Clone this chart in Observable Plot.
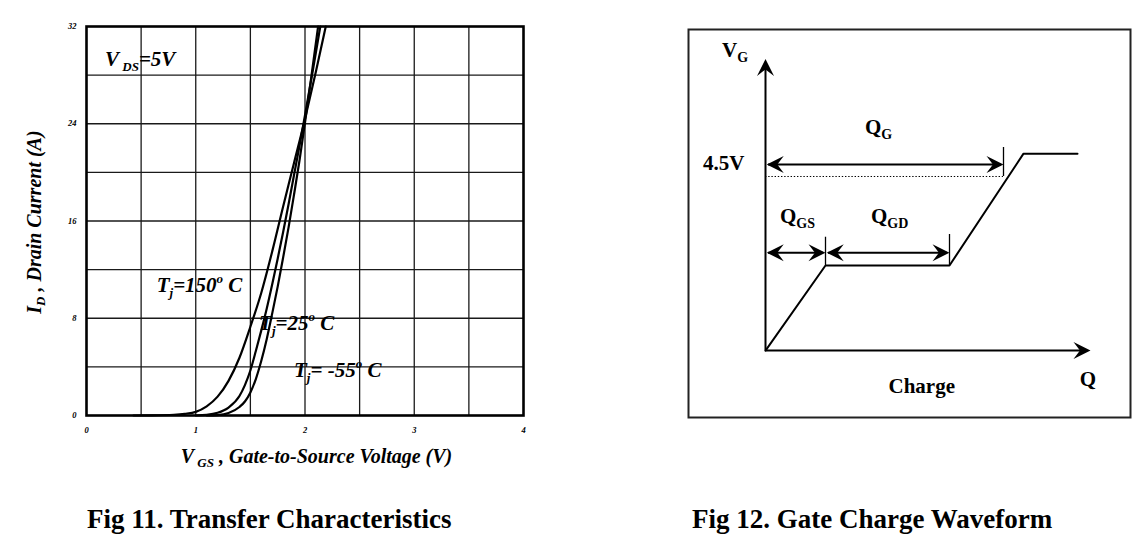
<!DOCTYPE html>
<html><head><meta charset="utf-8">
<script src="https://cdn.jsdelivr.net/npm/d3@7"></script>
<script src="https://cdn.jsdelivr.net/npm/@observablehq/plot@0.6"></script>
<style>
body{margin:0;background:#fff;}
#wrap{position:relative;width:1143px;height:552px;background:#fff;overflow:hidden;}
#wrap svg{position:absolute;overflow:visible;}
.cap{position:absolute;font-family:"Liberation Serif","Times New Roman",serif;font-weight:bold;font-size:27px;color:#000;white-space:nowrap;line-height:1;}
</style></head><body><div id="wrap"></div>
<script>
// ---------- Fig 11 data ----------
const xTicks = [0, 1, 2, 3, 4];
const yTicks = [0, 8, 16, 24, 32];
const xGrid = [0.5, 1, 1.5, 2, 2.5, 3, 3.5];
const yGrid = [4, 8, 12, 16, 20, 24, 28];
const tj150 = [[0.43,0],[0.6,0.01],[0.8,0.06],[0.9,0.14],[1.0,0.3],[1.1,0.75],[1.2,1.55],[1.3,2.85],[1.4,4.75],[1.5,7.3],[1.6,10.1],[1.7,13.5],[1.8,17.2],[1.9,20.8],[2.0,24.4],[2.1,28.3],[2.19,32]];
const tj25  = [[1.0,0],[1.1,0.05],[1.2,0.22],[1.3,0.65],[1.4,1.6],[1.45,2.5],[1.5,3.7],[1.55,5.3],[1.6,7.0],[1.65,8.8],[1.7,10.8],[1.75,12.9],[1.8,15.1],[1.85,17.4],[1.9,19.8],[1.95,22.2],[2.0,24.7],[2.07,28.3],[2.14,32]];
const tjm55 = [[1.1,0],[1.2,0.03],[1.3,0.2],[1.4,0.7],[1.45,1.15],[1.5,1.9],[1.55,3.0],[1.6,4.5],[1.65,6.3],[1.7,8.4],[1.75,10.6],[1.8,13.0],[1.85,15.5],[1.9,18.2],[1.95,21.0],[2.0,24.1],[2.06,28.0],[2.12,32]];
const curveNames = ["150", "25", "-55"];
const leftLabels = [
  {x:0.174, y:28.7, parts:[{t:"V"},{t:" DS",sub:1},{t:"=5V"}]},
  {x:0.647, y:10.14, parts:[{t:"T"},{t:"j",sub:1},{t:"=150"},{t:"o",sup:1},{t:" C"}]},
  {x:1.584, y:6.99, parts:[{t:"T"},{t:"j",sub:1},{t:"=25"},{t:"o",sup:1},{t:" C"}]},
  {x:1.904, y:3.15, parts:[{t:"T"},{t:"j",sub:1},{t:"= -55"},{t:"o",sup:1},{t:" C"}]}
];

// ---------- Fig 12 data (schematic units) ----------
const waveQ = [0, 2.4, 7.36, 10.32, 12.48];
const waveV = [0, 2.2, 2.2, 5.09, 5.09];
const qgsEnd = 2.4, qgdEnd = 7.36, qgEnd = 9.52, vLevel = 4.5;

const SERIF = '"Liberation Serif","Times New Roman",serif';
const wrap = document.getElementById("wrap");

function rich(svg, px, py, parts, o) {
  const t = d3.select(svg).append("text")
    .attr("x", px).attr("y", py)
    .attr("font-family", SERIF).attr("font-size", o.size)
    .attr("font-weight", "bold").attr("font-style", o.italic ? "italic" : "normal")
    .attr("text-anchor", o.anchor || "start").attr("fill", "black")
    .style("white-space", "pre");
  if (o.rotate) t.attr("transform", `rotate(-90 ${px} ${py})`);
  let shift = 0;
  for (const p of parts) {
    const target = p.sub ? o.subShift : p.sup ? -o.supShift : 0;
    t.append("tspan").attr("dy", target - shift)
      .attr("font-size", (p.sub || p.sup) ? o.small : o.size).text(p.t);
    shift = target;
  }
}
function lin(plot, name) {
  const s = plot.scale(name);
  return d3.scaleLinear(s.domain, s.range);
}

// ---------- Fig 11 ----------
const rows = [];
[tj150, tj25, tjm55].forEach((c, k) => c.forEach(([v, i]) => rows.push({v, i, tj: curveNames[k]})));

const left = Plot.plot({
  width: 545, height: 475,
  marginLeft: 86, marginRight: 22, marginTop: 26, marginBottom: 60,
  x: {domain: [0, 4]}, y: {domain: [0, 32]},
  style: {fontFamily: SERIF, background: "transparent", color: "black"},
  marks: [
    Plot.ruleX(xGrid, {stroke: "#1a1a1a", strokeWidth: 1.3}),
    Plot.ruleY(yGrid, {stroke: "#1a1a1a", strokeWidth: 1.3}),
    Plot.axisX(xTicks, {tickSize: 0, tickPadding: 11, fontSize: 8.5, fontWeight: "bold", fontStyle: "italic", label: null}),
    Plot.axisY(yTicks, {tickSize: 0, tickPadding: 10, fontSize: 8.5, fontWeight: "bold", fontStyle: "italic", label: null}),
    Plot.line(rows, {x: "v", y: "i", z: "tj", curve: "monotone-x", stroke: "black", strokeWidth: 2.2}),
    Plot.frame({stroke: "black", strokeWidth: 2.6})
  ]
});
left.style.left = "0px"; left.style.top = "0px";
wrap.appendChild(left);
{
  const X = lin(left, "x"), Y = lin(left, "y");
  for (const L of leftLabels)
    rich(left, X(L.x), Y(L.y), L.parts, {size: 21, small: 13, subShift: 5, supShift: 9, italic: true});
  rich(left, X(2.11), Y(-3.95), [{t:"V"},{t:" GS",sub:1},{t:" , Gate-to-Source Voltage (V)"}],
       {size: 20, small: 13, subShift: 4, supShift: 0, italic: true, anchor: "middle"});
  rich(left, X(-0.412), Y(15.87), [{t:"I"},{t:"D",sub:1},{t:" , Drain Current (A)"}],
       {size: 20, small: 13, subShift: 4, supShift: 0, italic: true, anchor: "middle", rotate: true});
}

// ---------- Fig 12 ----------
const wave = waveQ.map((q, k) => ({q, v: waveV[k]}));
const headR = {draw(ctx) { const L = 17, W = 8.5; ctx.moveTo(0, 0); ctx.lineTo(-L, -W); ctx.lineTo(-L * 0.62, 0); ctx.lineTo(-L, W); ctx.closePath(); }};
const headL = {draw(ctx) { const L = 17, W = 8.5; ctx.moveTo(0, 0); ctx.lineTo(L, -W); ctx.lineTo(L * 0.62, 0); ctx.lineTo(L, W); ctx.closePath(); }};
const headU = {draw(ctx) { const L = 17, W = 8.5; ctx.moveTo(0, 0); ctx.lineTo(-W, L); ctx.lineTo(0, L * 0.62); ctx.lineTo(W, L); ctx.closePath(); }};
const yAxisTop = 7.54, xAxisEnd = 13.0, qgArrowV = 4.81, subArrowV = 2.53;

const shafts = [
  {x1: 0, y1: 0, x2: 0, y2: yAxisTop - 0.2},
  {x1: 0, y1: 0, x2: xAxisEnd - 0.4, y2: 0},
  {x1: 0.1, y1: qgArrowV, x2: qgEnd - 0.1, y2: qgArrowV},
  {x1: 0.1, y1: subArrowV, x2: qgsEnd - 0.1, y2: subArrowV},
  {x1: qgsEnd + 0.1, y1: subArrowV, x2: qgdEnd - 0.1, y2: subArrowV}
];
const ticks = [
  {x: qgEnd, y1: vLevel, y2: 5.25},
  {x: qgsEnd, y1: 2.2, y2: 2.93},
  {x: qgdEnd, y1: 2.2, y2: 3.0}
];
const right = Plot.plot({
  width: 446, height: 392, margin: 2,
  x: {domain: [-3.08, 14.6], axis: null}, y: {domain: [-1.73, 8.3], axis: null},
  style: {fontFamily: SERIF, background: "transparent", color: "black"},
  marks: [
    Plot.frame({stroke: "#222", strokeWidth: 2}),
    Plot.ruleY([vLevel], {x1: 0, x2: qgEnd, stroke: "black", strokeWidth: 1, strokeDasharray: "1.4,1.8"}),
    Plot.line(wave, {x: "q", y: "v", stroke: "black", strokeWidth: 2}),
    Plot.link(shafts, {x1: "x1", y1: "y1", x2: "x2", y2: "y2", stroke: "black", strokeWidth: 2}),
    Plot.ruleX(ticks, {x: "x", y1: "y1", y2: "y2", stroke: "black", strokeWidth: 1.3}),
    Plot.dot([{x: 0, y: yAxisTop}], {x: "x", y: "y", symbol: headU, r: 5, fill: "black", stroke: "none"}),
    Plot.dot([{x: xAxisEnd, y: 0}, {x: qgEnd, y: qgArrowV}, {x: qgsEnd, y: subArrowV}, {x: qgdEnd, y: subArrowV}],
      {x: "x", y: "y", symbol: headR, r: 5, fill: "black", stroke: "none"}),
    Plot.dot([{x: 0.05, y: qgArrowV}, {x: 0.05, y: subArrowV}, {x: qgsEnd + 0.05, y: subArrowV}],
      {x: "x", y: "y", symbol: headL, r: 5, fill: "black", stroke: "none"})
  ]
});
right.style.left = "686px"; right.style.top = "27px";
wrap.appendChild(right);
{
  const X = lin(right, "x"), Y = lin(right, "y");
  const o = {size: 21, small: 14, subShift: 5, supShift: 0};
  rich(right, X(-1.72), Y(7.58), [{t:"V"},{t:"G",sub:1}], o);
  rich(right, X(-2.48), Y(4.65), [{t:"4.5V"}], o);
  rich(right, X(4.0), Y(5.59), [{t:"Q"},{t:"G",sub:1}], o);
  rich(right, X(0.6), Y(3.28), [{t:"Q"},{t:"GS",sub:1}], o);
  rich(right, X(4.24), Y(3.28), [{t:"Q"},{t:"GD",sub:1}], o);
  rich(right, X(6.27), Y(-1.10), [{t:"Charge"}], {...o, anchor: "middle"});
  rich(right, X(12.92), Y(-0.93), [{t:"Q"}], {...o, anchor: "middle"});
}

// ---------- captions ----------
for (const [txt, lx] of [["Fig 11. Transfer Characteristics", 87], ["Fig 12. Gate Charge Waveform", 692]]) {
  const d = document.createElement("div");
  d.className = "cap"; d.textContent = txt;
  d.style.left = lx + "px"; d.style.top = "506px";
  wrap.appendChild(d);
}
</script></body></html>
